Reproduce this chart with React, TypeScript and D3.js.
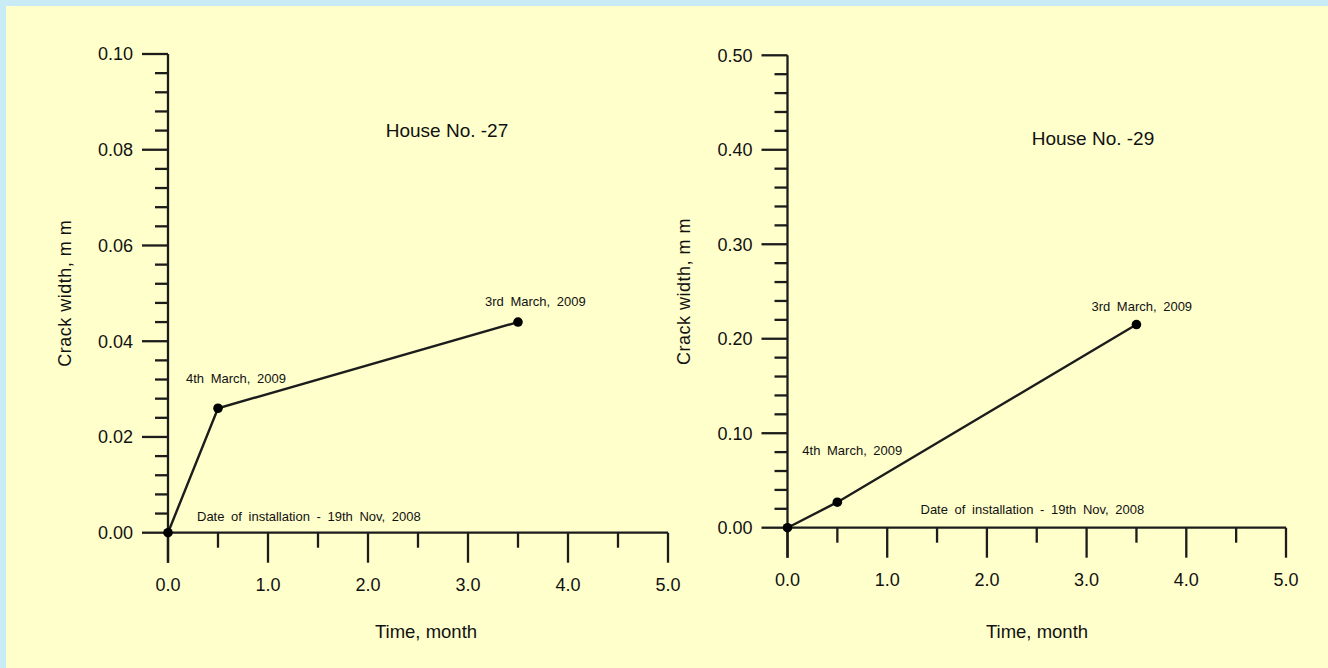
import * as d3 from "d3";

// time since installation (months) and crack width (mm)
const months = [0, 0.5, 3.5];
const house27Width = [0, 0.026, 0.044];
const house29Width = [0, 0.027, 0.215];

const xTickValues = [0, 1, 2, 3, 4, 5];
const house27YTicks = [0, 0.02, 0.04, 0.06, 0.08, 0.1];
const house29YTicks = [0, 0.1, 0.2, 0.3, 0.4, 0.5];

const pointLabels = [
  "Date of installation - 19th Nov, 2008",
  "4th March, 2009",
  "3rd March, 2009",
];

const FONT = "'Liberation Sans', Arial, Helvetica, sans-serif";
const INK = "#1c1c1c";

type PanelProps = {
  title: string;
  values: number[];
  yTicks: number[];
  x0: number;
  x1: number;
  yTop: number;
  yBottom: number;
  yLabelX: number;
  titleX: number;
  titleY: number;
  timeX: number;
  labelOffsets: [number, number][];
};

function Panel(p: PanelProps) {
  const yMax = p.yTicks[p.yTicks.length - 1];
  const x = d3.scaleLinear().domain([0, 5]).range([p.x0, p.x1]);
  const y = d3.scaleLinear().domain([0, yMax]).range([p.yBottom, p.yTop]);
  const step = p.yTicks[1] - p.yTicks[0];
  const minorY = d3.range(0, 26).map((i) => (i * step) / 5).filter((v, i) => i % 5 !== 0);
  const minorX = d3.range(0.5, 5, 1);
  const fmtY = d3.format(".2f");
  const fmtX = d3.format(".1f");

  const pts = months.map((m, i) => [x(m), y(p.values[i])] as [number, number]);
  const line = d3.line();

  return (
    <g>
      {/* y axis */}
      <line x1={p.x0} x2={p.x0} y1={p.yTop} y2={p.yBottom + 30} stroke={INK} strokeWidth={2.3} />
      {p.yTicks.map((t) => (
        <g key={"y" + t}>
          <line x1={p.x0 - 26} x2={p.x0} y1={y(t)} y2={y(t)} stroke={INK} strokeWidth={2.3} />
          <text x={p.x0 - 35} y={y(t)} dy="0.35em" textAnchor="end" fontSize={18} fill="#111">
            {fmtY(t)}
          </text>
        </g>
      ))}
      {minorY.map((t) => (
        <line key={"my" + t} x1={p.x0 - 13} x2={p.x0} y1={y(t)} y2={y(t)} stroke={INK} strokeWidth={2.3} />
      ))}
      {/* x axis */}
      <line x1={p.x0} x2={p.x1} y1={p.yBottom} y2={p.yBottom} stroke={INK} strokeWidth={2.3} />
      {xTickValues.map((t) => (
        <g key={"x" + t}>
          <line x1={x(t)} x2={x(t)} y1={p.yBottom} y2={p.yBottom + 30} stroke={INK} strokeWidth={2.3} />
          <text x={x(t)} y={p.yBottom + 58} textAnchor="middle" fontSize={18} fill="#111">
            {fmtX(t)}
          </text>
        </g>
      ))}
      {minorX.map((t) => (
        <line key={"mx" + t} x1={x(t)} x2={x(t)} y1={p.yBottom} y2={p.yBottom + 15} stroke={INK} strokeWidth={2.3} />
      ))}
      {/* axis titles */}
      <text
        transform={`translate(${p.yLabelX},${(p.yTop + p.yBottom) / 2}) rotate(-90)`}
        textAnchor="middle"
        dy="0.35em"
        fontSize={18}
        letterSpacing={0.5}
        fill="#111"
      >
        Crack width, m m
      </text>
      <text x={p.timeX} y={638} textAnchor="middle" fontSize={18.5} fill="#111">
        Time, month
      </text>
      <text x={p.titleX} y={p.titleY} textAnchor="middle" fontSize={19} fill="#111">
        {p.title}
      </text>
      {/* data */}
      <path d={line(pts) ?? ""} fill="none" stroke={INK} strokeWidth={2.4} />
      {pts.map((d, i) => (
        <circle key={"p" + i} cx={d[0]} cy={d[1]} r={4.8} fill="#000" />
      ))}
      {pts.map((d, i) => (
        <text
          key={"l" + i}
          x={d[0] + p.labelOffsets[i][0]}
          y={d[1] + p.labelOffsets[i][1]}
          fontSize={13}
          wordSpacing={3}
          fill="#111"
        >
          {pointLabels[i]}
        </text>
      ))}
    </g>
  );
}

export default function App() {
  return (
    <div style={{ position: "absolute", left: 0, top: 0 }}>
      <svg width={1328} height={668} fontFamily={FONT} style={{ display: "block" }}>
        <rect x={0} y={0} width={1328} height={668} fill="#c9ebf5" />
        <rect x={6} y={6} width={1322} height={662} fill="#ffffcc" />
        <Panel
          title="House No. -27"
          values={house27Width}
          yTicks={house27YTicks}
          x0={168}
          x1={668}
          yTop={54}
          yBottom={532.7}
          yLabelX={65}
          titleX={447}
          titleY={137}
          timeX={426}
          labelOffsets={[
            [29, -12],
            [-32, -25],
            [-33, -16],
          ]}
        />
        <Panel
          title="House No. -29"
          values={house29Width}
          yTicks={house29YTicks}
          x0={787.5}
          x1={1286}
          yTop={55.3}
          yBottom={527.7}
          yLabelX={684}
          titleX={1093}
          titleY={145}
          timeX={1037}
          labelOffsets={[
            [133, -14],
            [-35, -47],
            [-45, -14],
          ]}
        />
      </svg>
    </div>
  );
}
